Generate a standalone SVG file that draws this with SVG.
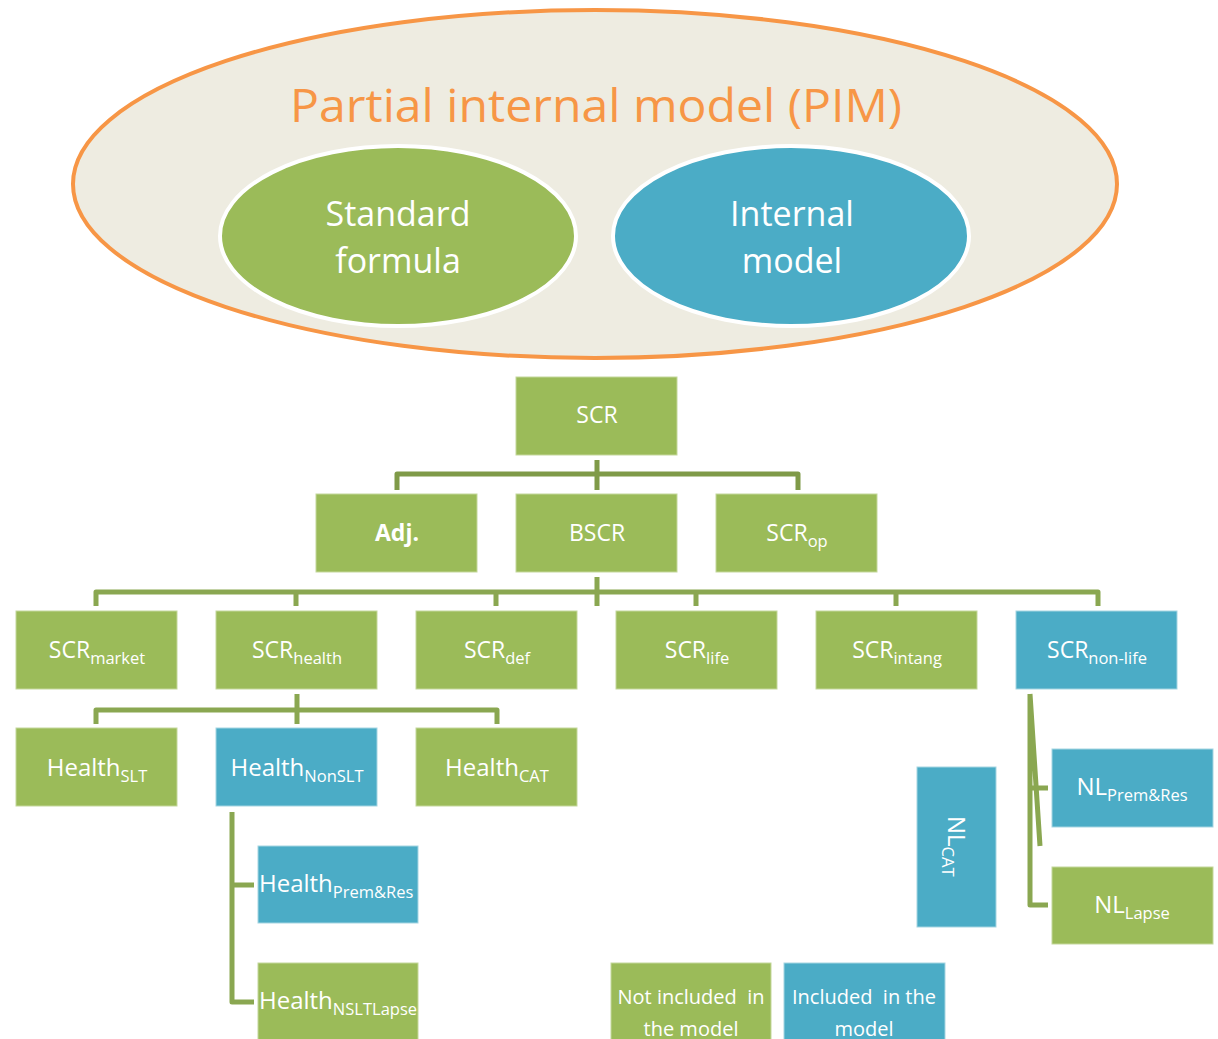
<svg xmlns="http://www.w3.org/2000/svg" width="1218" height="1039" viewBox="0 0 1218 1039">
<style>
text{font-family:"Open Sans","Noto Sans","Liberation Sans",sans-serif;fill:#fff}
.g{fill:#9BBB59;stroke:#C4D79B;stroke-width:1}
.b{fill:#4BACC6;stroke:#A5D5E2;stroke-width:1}
.t{font-size:23px;text-anchor:middle}
.s{font-size:16.5px}
.h{font-size:24px}
.l{font-size:20px;text-anchor:middle}
.c{fill:none;stroke:#8AA751;stroke-width:5;stroke-linejoin:round}
.c1{fill:none;stroke:#7F9A48;stroke-width:5;stroke-linejoin:round}
</style>
<g id="pim">
<ellipse cx="595" cy="184" rx="522" ry="174" fill="#EEECE1" stroke="#F79646" stroke-width="4"/>
<text x="596" y="122" style="font-size:46px;text-anchor:middle;fill:#F79646" textLength="612" lengthAdjust="spacingAndGlyphs">Partial internal model (PIM)</text>
</g>
<g id="standard-formula">
<ellipse cx="398" cy="236" rx="178" ry="90" fill="#9BBB59" stroke="#fff" stroke-width="4"/>
<text x="398" y="226" style="font-size:34px;text-anchor:middle">Standard</text>
<text x="398" y="273" style="font-size:34px;text-anchor:middle">formula</text>
</g>
<g id="internal-model">
<ellipse cx="791" cy="236" rx="178" ry="90" fill="#4BACC6" stroke="#fff" stroke-width="4"/>
<text x="792" y="226" style="font-size:34px;text-anchor:middle">Internal</text>
<text x="792" y="273" style="font-size:34px;text-anchor:middle">model</text>
</g>
<g id="connectors">
<path class="c1" d="M597 460V490M397 490V474H798V490"/>
<path class="c" d="M597 577V606M96 606V592H1098V606M296 592V606M496 592V606M696 592V606M896 592V606"/>
<path class="c" d="M297 694V724M96 724V710H497V724"/>
<path class="c" d="M232 812V1002H254M232 885H254"/>
<path class="c" d="M1030 694V905H1048M1030 788H1048M1030 694L1040 846"/>
</g>
<g id="scr"><rect class="g" x="516" y="377" width="161" height="78"/><text class="t" x="597" y="423">SCR</text></g>
<g id="adj"><rect class="g" x="316" y="494" width="161" height="78"/><text class="t" x="397" y="541" font-weight="bold">Adj.</text></g>
<g id="bscr"><rect class="g" x="516" y="494" width="161" height="78"/><text class="t" x="597" y="541">BSCR</text></g>
<g id="scr-op"><rect class="g" x="716" y="494" width="161" height="78"/><text class="t" x="797" y="541">SCR<tspan class="s" dy="6">op</tspan></text></g>
<g id="scr-market"><rect class="g" x="16" y="611" width="161" height="78"/><text class="t" x="97" y="658">SCR<tspan class="s" dy="6">market</tspan></text></g>
<g id="scr-health"><rect class="g" x="216" y="611" width="161" height="78"/><text class="t" x="297" y="658">SCR<tspan class="s" dy="6">health</tspan></text></g>
<g id="scr-def"><rect class="g" x="416" y="611" width="161" height="78"/><text class="t" x="497" y="658">SCR<tspan class="s" dy="6">def</tspan></text></g>
<g id="scr-life"><rect class="g" x="616" y="611" width="161" height="78"/><text class="t" x="697" y="658">SCR<tspan class="s" dy="6">life</tspan></text></g>
<g id="scr-intang"><rect class="g" x="816" y="611" width="161" height="78"/><text class="t" x="897" y="658">SCR<tspan class="s" dy="6">intang</tspan></text></g>
<g id="scr-non-life"><rect class="b" x="1016" y="611" width="161" height="78"/><text class="t" x="1097" y="658">SCR<tspan class="s" dy="6">non-life</tspan></text></g>
<g id="health-slt"><rect class="g" x="16" y="728" width="161" height="78"/><text class="t h" x="97" y="776">Health<tspan class="s" dy="6">SLT</tspan></text></g>
<g id="health-nonslt"><rect class="b" x="216" y="728" width="161" height="78"/><text class="t h" x="297" y="776">Health<tspan class="s" dy="6">NonSLT</tspan></text></g>
<g id="health-cat"><rect class="g" x="416" y="728" width="161" height="78"/><text class="t h" x="497" y="776">Health<tspan class="s" dy="6">CAT</tspan></text></g>
<g id="health-premres"><rect class="b" x="258" y="846" width="160" height="77"/><text class="h" x="259" y="892">Health<tspan class="s" dy="6">Prem&amp;Res</tspan></text></g>
<g id="health-nsltlapse"><rect class="g" x="258" y="963" width="160" height="80"/><text class="h" x="259" y="1009">Health<tspan class="s" dy="6">NSLTLapse</tspan></text></g>
<g id="nl-cat"><rect class="b" x="917" y="767" width="79" height="160"/><text class="h" transform="translate(948 816) rotate(90)">NL<tspan class="s" dy="6">CAT</tspan></text></g>
<g id="nl-premres"><rect class="b" x="1052" y="749" width="161" height="78"/><text class="t h" x="1132" y="795">NL<tspan class="s" dy="6">Prem&amp;Res</tspan></text></g>
<g id="nl-lapse"><rect class="g" x="1052" y="867" width="161" height="77"/><text class="t h" x="1132" y="913">NL<tspan class="s" dy="6">Lapse</tspan></text></g>
<g id="legend-not-included"><rect class="g" x="611" y="963" width="160" height="80"/><text class="l" x="691" y="1004" xml:space="preserve">Not included  in</text><text class="l" x="691" y="1036">the model</text></g>
<g id="legend-included"><rect class="b" x="784" y="963" width="161" height="80"/><text class="l" x="864" y="1004" xml:space="preserve">Included  in the</text><text class="l" x="864" y="1036">model</text></g>
</svg>
